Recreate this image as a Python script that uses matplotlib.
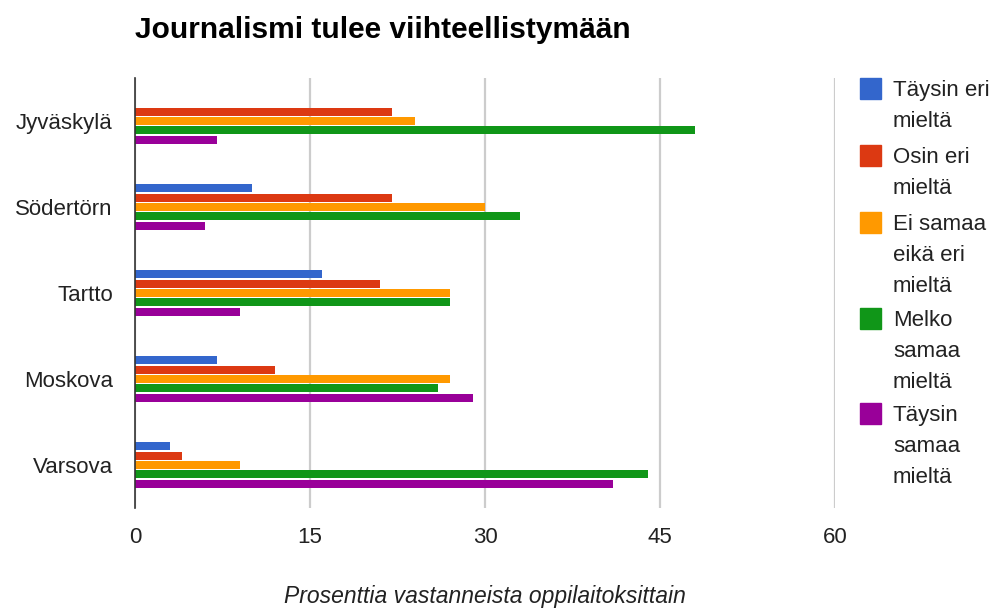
import matplotlib.pyplot as plt
import numpy as np
from matplotlib.patches import Rectangle

plt.rcParams['font.family'] = ['Liberation Sans', 'DejaVu Sans']

# Kategoriat ja sarjat
kaupungit = ["Jyväskylä", "Södertörn", "Tartto", "Moskova", "Varsova"]
sarjat = ["Täysin eri\nmieltä", "Osin eri\nmieltä", "Ei samaa\neikä eri\nmieltä",
          "Melko\nsamaa\nmieltä", "Täysin\nsamaa\nmieltä"]
taysin_eri = [0, 10, 16, 7, 3]
osin_eri = [22, 22, 21, 12, 4]
ei_samaa_eika_eri = [24, 30, 27, 27, 9]
melko_samaa = [48, 33, 27, 26, 44]
taysin_samaa = [7, 6, 9, 29, 41]
arvot = [taysin_eri, osin_eri, ei_samaa_eika_eri, melko_samaa, taysin_samaa]
varit = ["#3366cc", "#dc3912", "#ff9900", "#109618", "#990099"]
x_tikit = [0, 15, 30, 45, 60]

fig = plt.figure(figsize=(9.95, 6.08), dpi=100)
ax = fig.add_axes([135 / 995, 1 - 508 / 608, 700 / 995, 430 / 608])

y = np.arange(len(kaupungit))
vali = 0.108
for i, (vals, c) in enumerate(zip(arvot, varit)):
    ax.barh(y + (i - 2) * vali, vals, height=0.093, color=c, zorder=3)

ax.set_xlim(0, 60)
ax.set_ylim(4.5, -0.5)
ax.set_xticks(x_tikit)
ax.set_xticklabels([str(t) for t in x_tikit])
ax.set_yticks(y)
ax.set_yticklabels(kaupungit)
ax.tick_params(axis='both', length=0, labelsize=16, colors="#222222")
ax.tick_params(axis='x', pad=14)
ax.tick_params(axis='y', pad=16)
ax.grid(axis='x', color="#cccccc", linewidth=1.6, zorder=0)
for s in ["top", "right", "bottom"]:
    ax.spines[s].set_visible(False)
ax.spines["left"].set_color("#333333")
ax.spines["left"].set_linewidth(1.2)
ax.spines["left"].set_zorder(4)

fig.text(135 / 995, 1 - 30 / 608, "Journalismi tulee viihteellistymään",
         fontsize=21.5, fontweight="bold", ha="left", va="center")
fig.text(485 / 995, 1 - 597 / 608, "Prosenttia vastanneista oppilaitoksittain",
         fontsize=16.5, style="italic", color="#222222", ha="center", va="center")

# Selite
alut = [88, 155, 222, 318, 413]
for nimi, c, yy in zip(sarjat, varit, alut):
    fig.patches.append(Rectangle((860 / 995, 1 - (yy + 11) / 608), 21 / 995, 21 / 608,
                                 transform=fig.transFigure, color=c))
    for k, rivi in enumerate(nimi.split("\n")):
        fig.text(893 / 995, 1 - (yy + 31 * k) / 608, rivi, fontsize=16, color="#222222",
                 ha="left", va="center_baseline")

fig.savefig("out.png", dpi=100)
